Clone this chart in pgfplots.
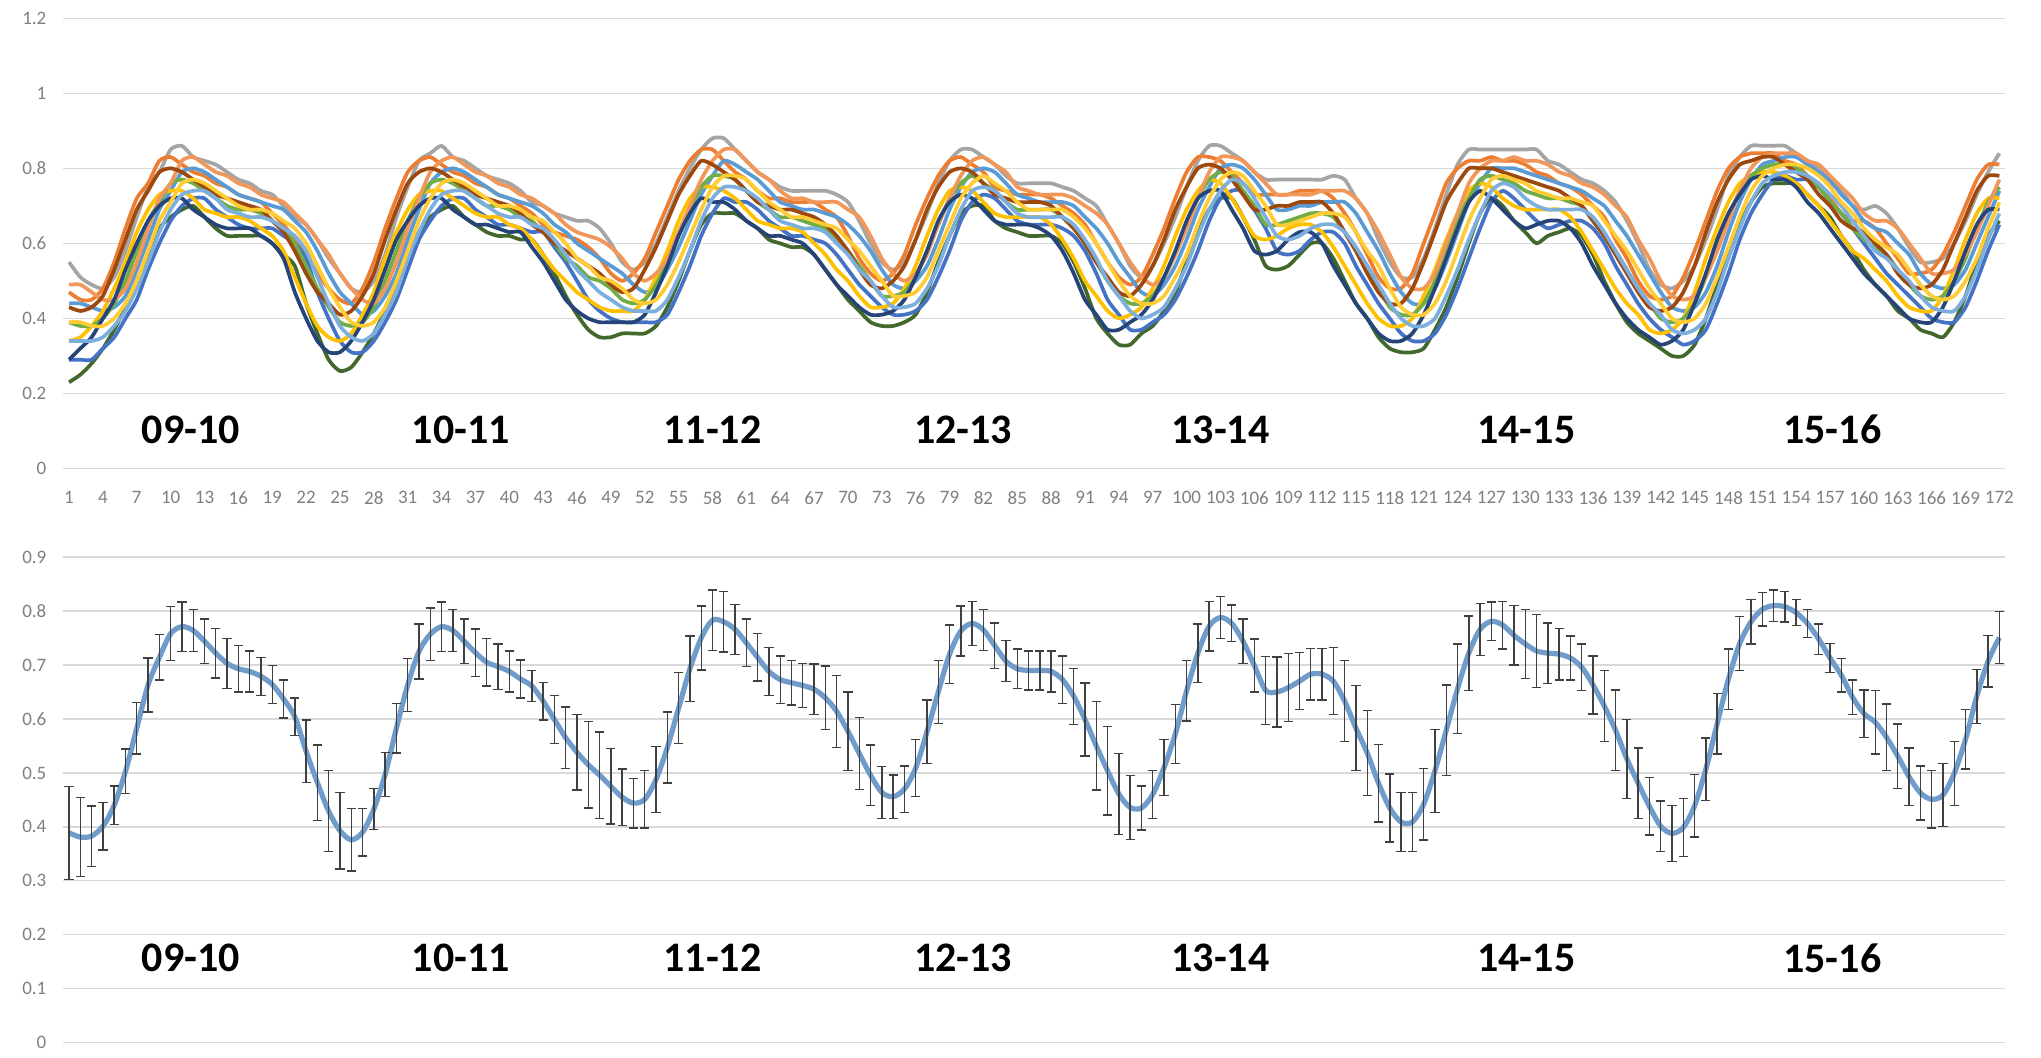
\documentclass[border=0pt]{standalone}
\usepackage{pgfplots}
\pgfplotsset{compat=1.18}
\usepackage{pgfplotstable}
\usepackage{fontspec}
\setmainfont{Carlito}
\definecolor{gridc}{HTML}{D9D9D9}
\definecolor{tickc}{HTML}{7F7F7F}
\definecolor{meanc}{HTML}{709CCC}
\definecolor{c1}{HTML}{A5A5A5}
\definecolor{c2}{HTML}{43682B}
\definecolor{c3}{HTML}{ED7D31}
\definecolor{c4}{HTML}{4472C4}
\definecolor{c5}{HTML}{5B9BD5}
\definecolor{c6}{HTML}{FFC000}
\definecolor{c7}{HTML}{70AD47}
\definecolor{c8}{HTML}{F1975A}
\definecolor{c9}{HTML}{264478}
\definecolor{c10}{HTML}{9E480E}
\definecolor{c11}{HTML}{7CAFDD}
\definecolor{c12}{HTML}{FFCD33}
\pgfplotstableread{
i m e s1 s2 s3 s4 s5 s6 s7 s8 s9 s10 s11 s12
1 0.389 0.086 0.55 0.23 0.47 0.29 0.44 0.34 0.39 0.49 0.29 0.43 0.34 0.39
2 0.381 0.073 0.51 0.25 0.45 0.29 0.44 0.35 0.38 0.49 0.32 0.42 0.34 0.39
3 0.383 0.056 0.49 0.28 0.45 0.29 0.43 0.38 0.38 0.47 0.35 0.43 0.34 0.38
4 0.401 0.044 0.48 0.32 0.48 0.32 0.42 0.42 0.40 0.45 0.40 0.46 0.35 0.38
5 0.440 0.036 0.51 0.37 0.55 0.35 0.43 0.48 0.44 0.45 0.45 0.53 0.38 0.40
6 0.503 0.041 0.58 0.43 0.64 0.40 0.46 0.55 0.50 0.48 0.53 0.61 0.42 0.44
7 0.583 0.048 0.67 0.50 0.72 0.45 0.53 0.63 0.58 0.55 0.60 0.69 0.48 0.50
8 0.663 0.050 0.75 0.57 0.76 0.53 0.61 0.69 0.66 0.64 0.66 0.74 0.55 0.58
9 0.714 0.042 0.79 0.64 0.82 0.60 0.69 0.73 0.71 0.72 0.70 0.79 0.63 0.66
10 0.758 0.050 0.85 0.67 0.83 0.66 0.74 0.74 0.76 0.76 0.72 0.80 0.69 0.71
11 0.771 0.046 0.86 0.69 0.81 0.70 0.79 0.74 0.77 0.82 0.72 0.79 0.73 0.76
12 0.764 0.039 0.83 0.70 0.79 0.72 0.80 0.72 0.76 0.83 0.69 0.77 0.74 0.77
13 0.744 0.041 0.82 0.67 0.78 0.72 0.79 0.69 0.74 0.81 0.67 0.75 0.74 0.76
14 0.722 0.046 0.81 0.64 0.76 0.69 0.77 0.68 0.72 0.79 0.65 0.73 0.72 0.74
15 0.703 0.046 0.79 0.62 0.75 0.67 0.75 0.67 0.70 0.78 0.64 0.72 0.69 0.72
16 0.693 0.043 0.77 0.62 0.73 0.65 0.73 0.67 0.69 0.76 0.64 0.71 0.68 0.70
17 0.688 0.038 0.76 0.62 0.72 0.64 0.72 0.66 0.69 0.75 0.64 0.70 0.67 0.69
18 0.679 0.035 0.74 0.62 0.71 0.64 0.71 0.64 0.68 0.73 0.62 0.69 0.67 0.69
19 0.664 0.035 0.73 0.60 0.68 0.64 0.70 0.62 0.66 0.72 0.60 0.66 0.66 0.68
20 0.637 0.035 0.70 0.57 0.65 0.62 0.69 0.58 0.64 0.71 0.56 0.63 0.64 0.66
21 0.604 0.035 0.67 0.54 0.61 0.60 0.66 0.51 0.60 0.68 0.47 0.58 0.62 0.64
22 0.540 0.058 0.65 0.44 0.57 0.56 0.63 0.44 0.54 0.65 0.40 0.52 0.58 0.60
23 0.482 0.070 0.61 0.36 0.52 0.47 0.58 0.38 0.48 0.61 0.34 0.47 0.51 0.54
24 0.429 0.075 0.56 0.29 0.48 0.40 0.52 0.35 0.43 0.57 0.31 0.44 0.44 0.48
25 0.393 0.071 0.52 0.26 0.45 0.34 0.47 0.34 0.39 0.52 0.31 0.41 0.38 0.43
26 0.376 0.058 0.48 0.27 0.44 0.31 0.44 0.36 0.38 0.48 0.34 0.42 0.35 0.39
27 0.390 0.044 0.47 0.31 0.48 0.31 0.41 0.41 0.39 0.45 0.39 0.46 0.34 0.38
28 0.433 0.038 0.50 0.36 0.55 0.34 0.42 0.47 0.43 0.44 0.45 0.52 0.36 0.39
29 0.497 0.041 0.57 0.42 0.64 0.39 0.46 0.56 0.50 0.48 0.53 0.61 0.41 0.43
30 0.583 0.046 0.67 0.50 0.72 0.45 0.52 0.63 0.58 0.55 0.61 0.69 0.47 0.50
31 0.663 0.049 0.75 0.58 0.79 0.53 0.61 0.69 0.66 0.64 0.66 0.76 0.56 0.58
32 0.725 0.051 0.82 0.63 0.82 0.61 0.69 0.73 0.72 0.72 0.70 0.79 0.63 0.66
33 0.757 0.049 0.84 0.67 0.83 0.66 0.76 0.74 0.76 0.79 0.72 0.80 0.69 0.72
34 0.771 0.046 0.86 0.69 0.81 0.70 0.79 0.74 0.77 0.82 0.72 0.79 0.73 0.76
35 0.764 0.039 0.83 0.70 0.79 0.72 0.80 0.72 0.76 0.83 0.69 0.77 0.74 0.77
36 0.744 0.041 0.82 0.67 0.78 0.72 0.79 0.70 0.74 0.81 0.67 0.75 0.74 0.76
37 0.723 0.044 0.80 0.65 0.76 0.69 0.77 0.68 0.72 0.79 0.65 0.73 0.72 0.74
38 0.705 0.044 0.78 0.63 0.75 0.67 0.75 0.67 0.70 0.78 0.65 0.72 0.70 0.72
39 0.697 0.042 0.77 0.62 0.73 0.65 0.73 0.67 0.70 0.76 0.64 0.71 0.68 0.70
40 0.688 0.038 0.76 0.62 0.72 0.65 0.72 0.65 0.69 0.75 0.63 0.70 0.67 0.70
41 0.674 0.035 0.74 0.61 0.70 0.64 0.71 0.64 0.67 0.73 0.63 0.68 0.67 0.69
42 0.661 0.029 0.71 0.61 0.68 0.63 0.70 0.61 0.66 0.72 0.59 0.65 0.65 0.67
43 0.633 0.035 0.70 0.57 0.65 0.63 0.68 0.57 0.63 0.70 0.55 0.63 0.64 0.66
44 0.599 0.045 0.68 0.52 0.63 0.59 0.65 0.53 0.60 0.68 0.50 0.60 0.61 0.63
45 0.565 0.057 0.67 0.46 0.62 0.55 0.63 0.50 0.56 0.65 0.45 0.58 0.57 0.60
46 0.538 0.070 0.66 0.41 0.61 0.50 0.60 0.47 0.54 0.63 0.42 0.56 0.53 0.56
47 0.515 0.080 0.66 0.37 0.59 0.45 0.58 0.45 0.51 0.62 0.40 0.54 0.50 0.54
48 0.496 0.080 0.64 0.35 0.56 0.42 0.56 0.43 0.50 0.61 0.39 0.52 0.47 0.51
49 0.475 0.070 0.60 0.35 0.52 0.40 0.54 0.42 0.48 0.59 0.39 0.49 0.45 0.50
50 0.455 0.052 0.55 0.36 0.50 0.39 0.52 0.42 0.45 0.56 0.39 0.47 0.43 0.48
51 0.444 0.046 0.53 0.36 0.52 0.39 0.49 0.42 0.44 0.52 0.39 0.48 0.42 0.45
52 0.451 0.053 0.55 0.36 0.56 0.39 0.47 0.45 0.45 0.50 0.41 0.53 0.42 0.44
53 0.488 0.061 0.60 0.38 0.63 0.39 0.48 0.51 0.49 0.52 0.47 0.59 0.42 0.45
54 0.547 0.066 0.67 0.43 0.70 0.41 0.53 0.58 0.55 0.56 0.54 0.66 0.45 0.49
55 0.620 0.066 0.74 0.50 0.77 0.47 0.59 0.66 0.62 0.63 0.62 0.73 0.51 0.55
56 0.693 0.061 0.80 0.58 0.82 0.54 0.66 0.72 0.69 0.70 0.68 0.78 0.58 0.62
57 0.750 0.059 0.85 0.65 0.85 0.62 0.73 0.75 0.75 0.77 0.72 0.82 0.66 0.69
58 0.783 0.056 0.88 0.68 0.85 0.68 0.78 0.75 0.78 0.82 0.71 0.81 0.72 0.75
59 0.780 0.056 0.88 0.68 0.82 0.72 0.82 0.74 0.78 0.85 0.71 0.79 0.75 0.78
60 0.766 0.046 0.85 0.68 0.79 0.71 0.81 0.72 0.77 0.85 0.69 0.77 0.75 0.78
61 0.741 0.044 0.82 0.66 0.77 0.71 0.79 0.69 0.74 0.82 0.66 0.74 0.74 0.77
62 0.714 0.044 0.79 0.64 0.74 0.69 0.77 0.66 0.71 0.79 0.64 0.71 0.72 0.74
63 0.688 0.044 0.77 0.61 0.72 0.66 0.74 0.65 0.69 0.77 0.62 0.70 0.69 0.71
64 0.673 0.044 0.75 0.60 0.72 0.64 0.71 0.64 0.67 0.74 0.62 0.69 0.66 0.69
65 0.667 0.041 0.74 0.59 0.71 0.62 0.70 0.64 0.67 0.72 0.61 0.69 0.65 0.67
66 0.662 0.041 0.74 0.59 0.71 0.62 0.69 0.63 0.66 0.72 0.60 0.68 0.64 0.67
67 0.655 0.047 0.74 0.57 0.71 0.61 0.69 0.60 0.65 0.71 0.57 0.67 0.64 0.66
68 0.639 0.059 0.74 0.53 0.69 0.60 0.68 0.57 0.64 0.71 0.53 0.65 0.63 0.65
69 0.614 0.067 0.73 0.49 0.67 0.57 0.67 0.53 0.61 0.71 0.49 0.62 0.60 0.64
70 0.577 0.073 0.71 0.45 0.62 0.53 0.65 0.50 0.58 0.69 0.46 0.58 0.57 0.61
71 0.536 0.067 0.66 0.42 0.56 0.49 0.62 0.46 0.54 0.67 0.43 0.53 0.53 0.58
72 0.496 0.056 0.60 0.39 0.52 0.46 0.58 0.43 0.50 0.62 0.41 0.49 0.50 0.54
73 0.464 0.048 0.55 0.38 0.50 0.43 0.53 0.43 0.46 0.56 0.41 0.48 0.46 0.50
74 0.456 0.040 0.53 0.38 0.52 0.41 0.49 0.44 0.46 0.52 0.42 0.50 0.43 0.46
75 0.470 0.043 0.55 0.39 0.57 0.41 0.48 0.48 0.47 0.50 0.45 0.54 0.43 0.46
76 0.509 0.053 0.61 0.41 0.65 0.42 0.50 0.54 0.51 0.52 0.51 0.61 0.44 0.47
77 0.576 0.059 0.68 0.47 0.72 0.45 0.54 0.62 0.58 0.57 0.58 0.69 0.48 0.51
78 0.650 0.058 0.76 0.55 0.78 0.51 0.61 0.69 0.65 0.65 0.66 0.75 0.54 0.58
79 0.720 0.054 0.82 0.62 0.82 0.58 0.69 0.74 0.72 0.72 0.71 0.79 0.62 0.65
80 0.763 0.046 0.85 0.68 0.83 0.66 0.75 0.75 0.76 0.78 0.73 0.80 0.69 0.72
81 0.777 0.041 0.85 0.70 0.81 0.71 0.79 0.74 0.78 0.82 0.72 0.79 0.74 0.76
82 0.765 0.038 0.83 0.70 0.79 0.73 0.80 0.71 0.76 0.83 0.69 0.76 0.75 0.78
83 0.736 0.042 0.81 0.66 0.75 0.72 0.79 0.68 0.74 0.81 0.66 0.73 0.74 0.76
84 0.707 0.038 0.78 0.64 0.74 0.69 0.76 0.67 0.71 0.79 0.65 0.72 0.71 0.74
85 0.693 0.037 0.76 0.63 0.73 0.66 0.73 0.67 0.69 0.75 0.65 0.71 0.68 0.71
86 0.690 0.036 0.76 0.62 0.73 0.65 0.72 0.67 0.69 0.74 0.65 0.71 0.67 0.69
87 0.690 0.036 0.76 0.62 0.73 0.65 0.71 0.67 0.69 0.73 0.64 0.71 0.67 0.69
88 0.688 0.038 0.76 0.62 0.72 0.65 0.71 0.65 0.69 0.73 0.62 0.70 0.67 0.69
89 0.673 0.044 0.75 0.60 0.70 0.64 0.71 0.61 0.67 0.73 0.58 0.67 0.67 0.69
90 0.642 0.052 0.74 0.55 0.68 0.62 0.70 0.56 0.64 0.72 0.52 0.64 0.65 0.67
91 0.599 0.068 0.72 0.48 0.65 0.58 0.67 0.50 0.60 0.70 0.45 0.60 0.61 0.64
92 0.550 0.082 0.70 0.40 0.60 0.52 0.64 0.46 0.55 0.68 0.41 0.55 0.56 0.60
93 0.504 0.082 0.65 0.36 0.55 0.45 0.60 0.42 0.50 0.65 0.37 0.51 0.50 0.55
94 0.461 0.075 0.60 0.33 0.51 0.41 0.55 0.40 0.46 0.60 0.37 0.47 0.46 0.50
95 0.436 0.059 0.54 0.33 0.49 0.37 0.51 0.41 0.44 0.55 0.39 0.46 0.42 0.46
96 0.435 0.041 0.51 0.36 0.51 0.37 0.47 0.43 0.44 0.51 0.41 0.49 0.40 0.44
97 0.460 0.044 0.54 0.38 0.57 0.39 0.46 0.48 0.46 0.49 0.45 0.54 0.41 0.44
98 0.510 0.052 0.60 0.42 0.64 0.41 0.49 0.54 0.51 0.51 0.51 0.61 0.43 0.46
99 0.572 0.055 0.67 0.47 0.72 0.45 0.54 0.62 0.57 0.57 0.58 0.69 0.48 0.51
100 0.652 0.056 0.75 0.55 0.79 0.51 0.61 0.69 0.65 0.64 0.66 0.75 0.54 0.57
101 0.722 0.054 0.82 0.63 0.83 0.58 0.69 0.74 0.72 0.72 0.72 0.80 0.62 0.65
102 0.772 0.046 0.86 0.69 0.83 0.66 0.75 0.77 0.77 0.79 0.74 0.81 0.69 0.72
103 0.788 0.039 0.86 0.72 0.82 0.72 0.80 0.76 0.79 0.83 0.74 0.80 0.74 0.77
104 0.777 0.034 0.84 0.72 0.79 0.74 0.81 0.72 0.78 0.83 0.69 0.77 0.77 0.79
105 0.744 0.041 0.82 0.67 0.76 0.74 0.80 0.67 0.74 0.82 0.64 0.73 0.76 0.78
106 0.699 0.049 0.79 0.61 0.73 0.69 0.77 0.62 0.70 0.79 0.58 0.69 0.72 0.74
107 0.653 0.063 0.77 0.54 0.73 0.64 0.73 0.61 0.65 0.76 0.57 0.69 0.67 0.70
108 0.650 0.065 0.77 0.53 0.73 0.58 0.69 0.62 0.65 0.73 0.58 0.70 0.62 0.65
109 0.658 0.063 0.77 0.54 0.73 0.57 0.69 0.64 0.66 0.73 0.61 0.70 0.61 0.65
110 0.670 0.053 0.77 0.57 0.74 0.58 0.70 0.65 0.67 0.73 0.63 0.71 0.62 0.66
111 0.683 0.048 0.77 0.60 0.74 0.61 0.70 0.65 0.68 0.73 0.63 0.71 0.64 0.67
112 0.683 0.048 0.77 0.60 0.74 0.63 0.71 0.63 0.68 0.74 0.60 0.71 0.65 0.68
113 0.670 0.062 0.78 0.56 0.72 0.63 0.71 0.59 0.67 0.74 0.54 0.68 0.65 0.68
114 0.633 0.075 0.77 0.50 0.68 0.60 0.71 0.54 0.63 0.74 0.49 0.63 0.63 0.67
115 0.583 0.079 0.72 0.44 0.63 0.54 0.68 0.49 0.58 0.72 0.44 0.58 0.59 0.63
116 0.537 0.079 0.68 0.40 0.57 0.49 0.63 0.44 0.54 0.68 0.40 0.52 0.54 0.58
117 0.481 0.072 0.61 0.35 0.51 0.44 0.58 0.40 0.48 0.63 0.36 0.47 0.49 0.54
118 0.435 0.063 0.55 0.32 0.48 0.40 0.52 0.38 0.43 0.57 0.34 0.44 0.44 0.48
119 0.409 0.055 0.51 0.31 0.48 0.36 0.47 0.38 0.41 0.51 0.34 0.44 0.40 0.43
120 0.409 0.055 0.51 0.31 0.52 0.34 0.44 0.40 0.41 0.48 0.36 0.48 0.38 0.41
121 0.442 0.066 0.56 0.32 0.60 0.34 0.44 0.46 0.44 0.48 0.41 0.55 0.38 0.41
122 0.504 0.077 0.64 0.37 0.68 0.36 0.48 0.53 0.50 0.52 0.48 0.63 0.40 0.44
123 0.579 0.084 0.73 0.43 0.76 0.41 0.55 0.61 0.58 0.60 0.56 0.71 0.46 0.50
124 0.656 0.083 0.81 0.51 0.80 0.48 0.63 0.68 0.66 0.68 0.64 0.76 0.53 0.58
125 0.722 0.069 0.85 0.60 0.82 0.56 0.71 0.74 0.72 0.76 0.71 0.80 0.61 0.66
126 0.766 0.048 0.85 0.68 0.82 0.64 0.76 0.76 0.77 0.80 0.74 0.80 0.68 0.72
127 0.781 0.036 0.85 0.72 0.83 0.71 0.80 0.75 0.78 0.82 0.72 0.80 0.74 0.77
128 0.774 0.044 0.85 0.70 0.82 0.74 0.80 0.72 0.77 0.82 0.69 0.79 0.76 0.78
129 0.755 0.055 0.85 0.66 0.82 0.72 0.80 0.70 0.76 0.83 0.66 0.78 0.75 0.77
130 0.739 0.064 0.85 0.63 0.81 0.69 0.79 0.69 0.74 0.82 0.64 0.77 0.72 0.76
131 0.726 0.068 0.85 0.60 0.79 0.66 0.78 0.69 0.73 0.82 0.65 0.76 0.70 0.74
132 0.722 0.056 0.82 0.62 0.78 0.64 0.77 0.69 0.72 0.81 0.66 0.75 0.69 0.73
133 0.720 0.048 0.81 0.63 0.76 0.65 0.76 0.69 0.72 0.79 0.66 0.74 0.69 0.72
134 0.713 0.041 0.79 0.64 0.75 0.66 0.75 0.67 0.71 0.78 0.64 0.72 0.69 0.72
135 0.696 0.043 0.77 0.62 0.73 0.66 0.74 0.63 0.70 0.76 0.60 0.70 0.69 0.71
136 0.663 0.054 0.76 0.57 0.70 0.64 0.72 0.58 0.66 0.75 0.54 0.66 0.67 0.70
137 0.624 0.066 0.74 0.50 0.67 0.60 0.70 0.53 0.62 0.73 0.49 0.62 0.63 0.66
138 0.579 0.075 0.71 0.44 0.61 0.54 0.66 0.48 0.58 0.70 0.44 0.57 0.58 0.62
139 0.526 0.073 0.66 0.39 0.56 0.49 0.62 0.44 0.53 0.67 0.40 0.52 0.53 0.58
140 0.481 0.065 0.60 0.36 0.50 0.44 0.57 0.41 0.48 0.61 0.37 0.47 0.48 0.53
141 0.438 0.053 0.53 0.34 0.46 0.40 0.52 0.37 0.44 0.56 0.35 0.43 0.44 0.48
142 0.401 0.047 0.49 0.32 0.45 0.37 0.47 0.36 0.40 0.50 0.33 0.42 0.41 0.44
143 0.388 0.052 0.48 0.30 0.46 0.35 0.43 0.37 0.39 0.46 0.34 0.43 0.37 0.40
144 0.399 0.054 0.50 0.30 0.51 0.33 0.42 0.40 0.40 0.45 0.37 0.47 0.36 0.39
145 0.439 0.058 0.54 0.33 0.58 0.34 0.43 0.47 0.44 0.46 0.44 0.54 0.37 0.40
146 0.507 0.058 0.61 0.40 0.66 0.37 0.47 0.56 0.51 0.51 0.52 0.63 0.40 0.44
147 0.591 0.056 0.69 0.49 0.74 0.44 0.54 0.64 0.59 0.58 0.61 0.71 0.47 0.51
148 0.674 0.056 0.78 0.57 0.80 0.52 0.63 0.71 0.67 0.66 0.68 0.77 0.56 0.59
149 0.740 0.050 0.83 0.65 0.83 0.61 0.71 0.76 0.74 0.74 0.73 0.81 0.64 0.67
150 0.780 0.041 0.86 0.71 0.84 0.68 0.77 0.78 0.78 0.80 0.77 0.82 0.71 0.74
151 0.803 0.031 0.86 0.75 0.84 0.73 0.81 0.79 0.80 0.83 0.78 0.83 0.76 0.78
152 0.810 0.029 0.86 0.76 0.84 0.77 0.82 0.79 0.81 0.84 0.77 0.83 0.78 0.80
153 0.808 0.028 0.86 0.76 0.82 0.78 0.83 0.78 0.81 0.84 0.77 0.81 0.79 0.81
154 0.797 0.024 0.84 0.76 0.81 0.77 0.83 0.76 0.80 0.84 0.75 0.79 0.79 0.81
155 0.777 0.026 0.82 0.73 0.78 0.77 0.81 0.73 0.78 0.82 0.71 0.77 0.78 0.80
156 0.748 0.028 0.80 0.70 0.75 0.75 0.79 0.70 0.75 0.81 0.68 0.73 0.76 0.78
157 0.713 0.027 0.76 0.67 0.72 0.71 0.77 0.66 0.71 0.78 0.64 0.70 0.73 0.75
158 0.681 0.031 0.74 0.62 0.68 0.68 0.73 0.62 0.68 0.75 0.60 0.66 0.70 0.71
159 0.640 0.032 0.70 0.58 0.66 0.64 0.70 0.58 0.64 0.72 0.56 0.64 0.66 0.68
160 0.610 0.044 0.69 0.53 0.66 0.60 0.66 0.56 0.61 0.68 0.52 0.63 0.62 0.64
161 0.594 0.059 0.70 0.49 0.64 0.56 0.64 0.53 0.59 0.66 0.49 0.60 0.58 0.61
162 0.566 0.062 0.68 0.46 0.60 0.52 0.63 0.50 0.57 0.66 0.46 0.57 0.56 0.59
163 0.531 0.060 0.64 0.42 0.56 0.49 0.60 0.46 0.53 0.64 0.43 0.52 0.53 0.57
164 0.493 0.053 0.59 0.40 0.52 0.46 0.57 0.43 0.49 0.60 0.40 0.49 0.50 0.53
165 0.463 0.050 0.55 0.37 0.52 0.43 0.52 0.42 0.46 0.56 0.39 0.48 0.46 0.49
166 0.451 0.053 0.55 0.36 0.53 0.40 0.49 0.42 0.45 0.52 0.39 0.49 0.43 0.46
167 0.459 0.058 0.56 0.35 0.57 0.39 0.48 0.46 0.46 0.52 0.43 0.53 0.42 0.45
168 0.499 0.059 0.60 0.39 0.63 0.39 0.49 0.53 0.50 0.53 0.50 0.60 0.42 0.46
169 0.562 0.055 0.66 0.46 0.70 0.43 0.53 0.61 0.56 0.57 0.58 0.67 0.46 0.50
170 0.642 0.050 0.73 0.55 0.77 0.50 0.60 0.68 0.64 0.63 0.65 0.74 0.53 0.56
171 0.707 0.048 0.79 0.62 0.81 0.58 0.67 0.72 0.71 0.70 0.69 0.78 0.61 0.64
172 0.751 0.048 0.84 0.66 0.81 0.65 0.74 0.72 0.75 0.77 0.69 0.78 0.68 0.71
}\data
\pgfplotsset{
  base/.style={
    scale only axis, width=970.8pt, anchor=south west,
    xmin=0.5, xmax=172.5,
    axis line style={draw=none}, major tick length=0pt,
    ymajorgrids, grid style={gridc, line width=0.65pt},
    xtick={1,4,...,172},
    tick label style={font=\fontsize{9.5}{10}\selectfont, text=tickc},
    /pgf/number format/assume math mode=true,
    xticklabel style={yshift=-7.8pt},
    yticklabel style={xshift=-5pt},
  },
  ser/.style={#1, line width=1.85pt, smooth, tension=0.4, no markers, line join=round},
}
\tikzset{lab/.style={font=\fontsize{21}{24}\selectfont\bfseries, text=black}}
\begin{document}
\begin{tikzpicture}
\begin{axis}[base, at={(31.7pt,294.7pt)}, height=225.2pt, ymin=0, ymax=1.2,
  ytick={0,0.2,0.4,0.6,0.8,1,1.2}]
\addplot[ser=c1] table[x=i, y=s1] {\data};
\addplot[ser=c2] table[x=i, y=s2] {\data};
\addplot[ser=c3] table[x=i, y=s3] {\data};
\addplot[ser=c4] table[x=i, y=s4] {\data};
\addplot[ser=c5] table[x=i, y=s5] {\data};
\addplot[ser=c6] table[x=i, y=s6] {\data};
\addplot[ser=c7] table[x=i, y=s7] {\data};
\addplot[ser=c8] table[x=i, y=s8] {\data};
\addplot[ser=c9] table[x=i, y=s9] {\data};
\addplot[ser=c10] table[x=i, y=s10] {\data};
\addplot[ser=c11] table[x=i, y=s11] {\data};
\addplot[ser=c12] table[x=i, y=s12] {\data};
\node[lab] at (axis cs:11.8,0.104) {09-10};
\node[lab] at (axis cs:35.7,0.104) {10-11};
\node[lab] at (axis cs:58.0,0.104) {11-12};
\node[lab] at (axis cs:80.2,0.104) {12-13};
\node[lab] at (axis cs:103.0,0.104) {13-14};
\node[lab] at (axis cs:130.1,0.104) {14-15};
\node[lab] at (axis cs:157.2,0.104) {15-16};
\end{axis}
\begin{axis}[base, at={(31.7pt,7.65pt)}, height=242.8pt, ymin=0, ymax=0.9,
  ytick={0,0.1,0.2,0.3,0.4,0.5,0.6,0.7,0.8,0.9}]
\addplot[meanc, line width=2.6pt, smooth, no markers,
  error bars/.cd, y dir=both, y explicit,
  error bar style={line width=0.7pt, black!75},
  error mark options={rotate=90, line width=0.7pt, mark size=2.3pt, black!75}]
  table[x=i, y=m, y error=e] {\data};
\node[lab] at (axis cs:11.8,0.157) {09-10};
\node[lab] at (axis cs:35.7,0.157) {10-11};
\node[lab] at (axis cs:58.0,0.157) {11-12};
\node[lab] at (axis cs:80.2,0.157) {12-13};
\node[lab] at (axis cs:103.0,0.157) {13-14};
\node[lab] at (axis cs:130.1,0.157) {14-15};
\node[lab] at (axis cs:157.2,0.157) {15-16};
\end{axis}
\pgfresetboundingbox
\useasboundingbox (0,0) rectangle (1020.5pt,529pt);
\end{tikzpicture}
\end{document}
